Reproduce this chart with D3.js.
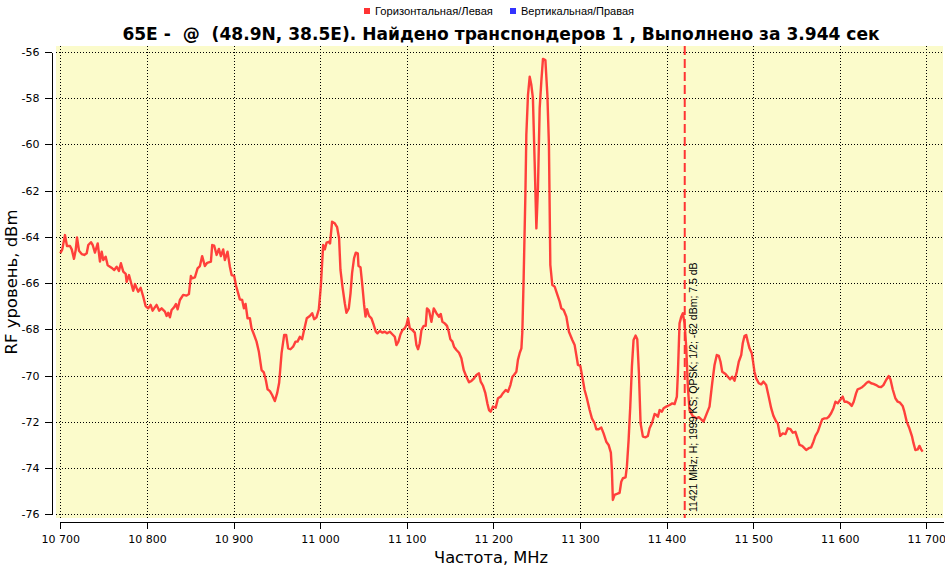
<!DOCTYPE html>
<html>
<head>
<meta charset="utf-8">
<script src="https://cdn.jsdelivr.net/npm/d3@7"></script>
<style>
  body { margin: 0; background: #fff; }
  text { font-family: "DejaVu Sans", Tahoma, sans-serif; fill: #000; }
</style>
</head>
<body>
<svg id="chart" width="945" height="567"></svg>
<script>
(function() {
  'use strict';

  // scan points, MHz
  var freqMHz = [
    10700,10702.3,10705.4,10707.7,10711.2,10713.2,10715.8,10717.8,10719.3,10721.6,
    10724.7,10727.7,10730.5,10732.3,10735.4,10737.4,10740,10743.2,10745.8,10747.8,
    10749.6,10752.4,10754.7,10757.3,10760,10762.3,10765.1,10767.7,10770,10772.7,
    10775.5,10776.6,10779.3,10782.4,10784.2,10786.2,10788.2,10790,10792.8,10795.8,
    10798.5,10801.5,10804.3,10806.6,10809.3,10811.2,10814.2,10817,10820.8,10822.8,
    10824.6,10826.6,10828.5,10831.5,10833.5,10835.5,10838.1,10841.9,10845.8,10848.5,
    10850.8,10852.3,10855.4,10858.5,10861.2,10863.8,10866.9,10869.6,10873.9,10875.4,
    10877.7,10880.5,10883.1,10885.4,10888.1,10890,10893.1,10895.8,10897.8,10900.8,
    10902.7,10905.4,10907.3,10910,10912,10913.9,10916.2,10918.9,10920.8,10923.5,
    10926.6,10929.3,10932.4,10935,10937.3,10939.3,10942,10944.6,10947.7,10950.4,
    10952.7,10955.5,10958.5,10960.8,10963.1,10965.8,10968.8,10971.6,10973.9,10976.6,
    10979.2,10981.5,10984.6,10988.1,10990.8,10993.1,10995.8,10998.5,11000.8,11003.5,
    11005.4,11007.4,11010,11011.5,11013.8,11016.9,11019.6,11021.9,11023.5,11025.8,
    11028.5,11030.4,11033.1,11035.1,11036.9,11039.2,11041.2,11043.5,11044.3,11046.6,
    11048.9,11050.8,11052.4,11054.2,11056.5,11059.3,11061.9,11064.3,11066.2,11068.9,
    11072,11074.6,11077.3,11080.4,11083.1,11086.2,11088.1,11090.4,11092.8,11095.1,
    11097.7,11099.7,11101.5,11103.5,11106.6,11109.3,11111.2,11113.1,11115,11117,
    11119.6,11121.9,11123.4,11125.8,11128.5,11131.2,11134.3,11137.3,11139.3,11141.2,
    11143.9,11146.5,11148.5,11150.4,11152.8,11154.6,11157.4,11160.4,11163.1,11165.8,
    11168.9,11171.9,11174.7,11177.7,11180.4,11183.4,11185.4,11188.1,11190.8,11193.1,
    11195,11196.9,11199.6,11202.7,11205.4,11208.5,11211.1,11214.3,11216.9,11219.7,
    11222,11223.8,11226.6,11228.4,11230.4,11232.4,11233.5,11235,11237,11238.1,
    11240,11242,11243.9,11245.7,11247.7,11249.7,11251.5,11253.5,11255.4,11257.3,
    11260.1,11262.4,11264.2,11265.8,11268.1,11270.8,11273.4,11276.6,11278.5,11281.2,
    11284.3,11287.3,11291.2,11293.9,11295.8,11297.7,11300.4,11302.7,11305.4,11308,
    11311.2,11313.8,11316.9,11318.9,11321.6,11324.7,11327.3,11330.4,11333.1,11335.7,
    11336.9,11338,11340,11342.7,11345.8,11347.7,11349.6,11352.7,11354.2,11356.2,
    11358.1,11360,11361.9,11364.2,11366.2,11368.1,11370,11372.7,11375.8,11378.4,
    11380.4,11383.1,11386.2,11388.1,11390,11392,11394.6,11396.6,11399.7,11403.5,
    11406.6,11409.3,11411.9,11413.1,11415,11417,11418.8,11420.8,11422.7,11424.6,
    11426.5,11430.3,11434.3,11437.3,11440,11442.7,11445.8,11449.6,11452.7,11455.4,
    11458,11460.4,11462.3,11464.3,11468.1,11470.7,11473.5,11475.8,11478.5,11481.1,
    11483.4,11486.2,11488,11490,11492,11493.8,11495.8,11498.4,11499.6,11501.5,
    11503.5,11506.5,11509.3,11511.9,11515,11518,11520.8,11523.5,11526.6,11528.4,
    11531.2,11534.2,11537.3,11540,11543.1,11545.7,11548.8,11551.5,11553.5,11556.6,
    11559.2,11561.2,11564.2,11567,11569.6,11571.9,11574.6,11577.3,11579.7,11582.3,
    11585,11587.3,11590,11592.7,11595,11597.7,11600.4,11603.4,11605.4,11608.1,
    11611.2,11613.8,11616.1,11618.9,11620.7,11623.5,11625.8,11628.5,11631.1,11633.4,
    11636.2,11638.9,11642,11645,11647.7,11650.4,11653.5,11656.5,11658.5,11661.1,
    11664.2,11666.9,11669.6,11672.6,11674.6,11677.3,11680.4,11683.5,11685,11687.3,
    11690,11692,11693.9,11695.7
  ];

  // horizontal / left polarisation level, dBm
  var levelDbm = [
    -64.71,-64.54,-63.92,-64.39,-64.39,-64.54,-64.95,-64.57,-64.02,-64.60,
    -64.74,-64.78,-64.71,-64.35,-64.23,-64.35,-64.68,-64.28,-65.07,-64.64,
    -65.00,-64.86,-65.23,-65.29,-65.36,-65.43,-65.29,-65.47,-65.14,-65.50,
    -65.60,-65.94,-65.65,-66.08,-66.33,-66.04,-66.22,-66.37,-66.20,-66.59,
    -66.99,-67.09,-66.94,-67.19,-67.04,-66.94,-67.19,-67.09,-67.23,-67.42,
    -67.28,-67.48,-67.16,-67.04,-66.90,-67.13,-66.73,-66.51,-66.54,-66.47,
    -65.69,-65.79,-65.75,-65.36,-65.26,-64.83,-65.26,-65.12,-65.07,-64.35,
    -64.38,-64.78,-64.52,-64.83,-64.54,-65.00,-64.64,-65.29,-65.65,-65.69,
    -66.08,-66.44,-66.70,-66.73,-67.09,-66.90,-67.52,-67.52,-67.95,-68.21,
    -68.53,-68.97,-69.76,-69.86,-70.19,-70.59,-70.67,-70.84,-71.10,-70.76,
    -70.31,-69.03,-68.24,-68.24,-68.82,-68.86,-68.75,-68.53,-68.53,-68.32,
    -68.43,-68.03,-67.52,-67.42,-67.30,-67.56,-67.48,-67.13,-66.15,-64.35,
    -64.54,-64.25,-64.21,-64.28,-63.34,-63.41,-63.58,-64.06,-65.43,-66.15,
    -66.87,-67.28,-67.09,-66.44,-65.57,-64.92,-64.68,-64.71,-65.26,-65.31,
    -66.15,-66.94,-67.45,-67.13,-67.42,-67.52,-67.81,-68.10,-68.17,-68.07,
    -68.14,-68.10,-68.17,-68.10,-68.20,-68.32,-68.68,-68.53,-68.21,-68.03,
    -67.95,-67.81,-67.52,-67.95,-68.03,-68.14,-68.68,-68.86,-68.60,-68.03,
    -67.85,-67.85,-67.09,-67.19,-67.67,-67.09,-67.30,-67.45,-67.33,-67.67,
    -67.74,-67.85,-68.10,-68.43,-68.53,-68.75,-68.89,-69.01,-69.25,-69.76,
    -70.05,-70.29,-70.23,-70.12,-69.97,-69.90,-70.26,-70.44,-70.76,-71.20,
    -71.49,-71.56,-71.34,-71.39,-70.98,-70.91,-70.76,-70.62,-70.70,-70.41,
    -70.05,-69.97,-69.83,-69.32,-69.03,-68.82,-68.10,-65.79,-62.19,-59.59,
    -57.86,-57.07,-57.43,-58.00,-60.75,-63.63,-61.90,-58.44,-57.28,-56.30,
    -56.35,-57.86,-60.02,-65.21,-66.08,-66.15,-66.44,-66.80,-67.09,-67.16,
    -67.45,-68.10,-68.46,-68.68,-69.11,-69.54,-69.58,-70.05,-70.62,-70.98,
    -71.49,-71.85,-72.06,-72.32,-72.32,-72.25,-72.50,-72.86,-73.00,-73.33,
    -74.08,-75.38,-75.16,-75.12,-75.07,-74.59,-74.44,-74.40,-73.94,-72.78,
    -71.34,-69.61,-68.46,-68.27,-68.43,-69.90,-72.06,-72.64,-72.67,-72.61,
    -72.28,-72.06,-71.66,-71.70,-71.78,-71.49,-71.56,-71.41,-71.34,-71.27,
    -71.20,-71.23,-70.91,-69.90,-67.74,-67.45,-67.30,-67.74,-68.75,-70.48,
    -71.49,-71.75,-71.85,-71.80,-71.89,-71.99,-71.70,-71.34,-70.33,-69.54,
    -69.11,-69.15,-69.40,-69.83,-69.93,-70.05,-70.16,-70.05,-70.22,-69.83,
    -69.40,-69.11,-68.60,-68.29,-68.24,-68.53,-68.82,-69.03,-69.32,-69.83,
    -70.12,-70.33,-70.38,-70.26,-70.41,-70.91,-71.41,-71.75,-71.99,-72.06,
    -72.61,-72.50,-72.53,-72.28,-72.32,-72.47,-72.43,-72.75,-73.00,-73.04,
    -73.14,-73.22,-73.14,-73.10,-72.86,-72.61,-72.43,-72.14,-71.89,-71.85,
    -71.85,-71.78,-71.63,-71.41,-71.13,-71.20,-71.05,-70.91,-71.13,-71.13,
    -71.20,-71.31,-71.13,-70.76,-70.59,-70.55,-70.50,-70.41,-70.31,-70.26,
    -70.33,-70.36,-70.41,-70.48,-70.50,-70.41,-70.19,-70.02,-70.16,-70.59,
    -70.98,-71.13,-71.17,-71.31,-71.56,-71.99,-72.28,-72.64,-72.90,-73.22,
    -73.19,-73.04,-73.19,-73.29
  ];

  var xTicks = d3.range(10700, 11701, 100);
  var xMinorTicks = d3.range(10700, 11701, 10);
  var yTicks = d3.range(-76, -55, 2);
  var yMinorTicks = d3.range(-76, -55.9, 0.2);

  var legendNames = ['Горизонтальная/Левая', 'Вертикальная/Правая'];
  var legendColors = ['#ff3333', '#3333ff'];

  var markerFreq = 11421;
  var markerLabel = '11421 MHz; H; 1999 KS; QPSK; 1/2; -62 dBm; 7.5 dB';

  var titleText = '65E -  @  (48.9N, 38.5E). Найдено транспондеров 1 , Выполнено за 3.944 сек';
  var xTitle = 'Частота, MHz';
  var yTitle = 'RF уровень, dBm';

  var svg = d3.select('#chart');

  var plot = { left: 56, top: 46, right: 943, bottom: 518 };

  var x = d3.scaleLinear().domain([10700, 11719.2]).range([60.3, 943]);
  var y = d3.scaleLinear().domain([-76, -56]).range([514.3, 52]);

  function fitWidth(sel, w) {
    var size = parseFloat(sel.style('font-size'));
    var len = sel.node().getComputedTextLength();
    sel.style('font-size', (size * w / len) + 'px');
  }

  // plot background
  svg.append('rect')
    .attr('x', plot.left)
    .attr('y', plot.top)
    .attr('width', plot.right - plot.left)
    .attr('height', plot.bottom - plot.top)
    .attr('fill', '#fbfbcb');

  // grid
  var grid = svg.append('g').attr('stroke', '#000').attr('stroke-width', 1)
    .attr('stroke-dasharray', '1,2').attr('shape-rendering', 'crispEdges');
  grid.selectAll('.gx').data(xTicks).enter().append('line')
    .attr('x1', function(d) { return Math.round(x(d)) + 0.5; })
    .attr('x2', function(d) { return Math.round(x(d)) + 0.5; })
    .attr('y1', plot.top).attr('y2', plot.bottom);
  grid.selectAll('.gy').data(yTicks).enter().append('line')
    .attr('y1', function(d) { return Math.round(y(d)) + 0.5; })
    .attr('y2', function(d) { return Math.round(y(d)) + 0.5; })
    .attr('x1', plot.left).attr('x2', plot.right);

  // axes
  var fmtX = function(d) { return d3.format(',')(d).replace(',', ' '); };

  var gx = svg.append('g').attr('transform', 'translate(0,521.5)');
  gx.call(d3.axisBottom(x).tickValues(xMinorTicks).tickSize(4).tickSizeOuter(0).tickFormat(''));
  gx.call(d3.axisBottom(x).tickValues(xTicks).tickSize(7).tickSizeOuter(0).tickFormat(fmtX));
  gx.selectAll('text').attr('dy', null).attr('y', 21).style('font-size', '11px');

  var gy = svg.append('g').attr('transform', 'translate(51.5,0)');
  gy.call(d3.axisLeft(y).tickValues(yMinorTicks).tickSize(4).tickSizeOuter(0).tickFormat(''));
  gy.call(d3.axisLeft(y).tickValues(yTicks).tickSize(7).tickSizeOuter(0)
    .tickFormat(function(d) { return String(d); }));
  gy.selectAll('text').attr('x', -12).style('font-size', '11px');

  svg.selectAll('.domain, .tick line').attr('stroke', '#000').attr('shape-rendering', 'crispEdges');

  // clip
  svg.append('clipPath').attr('id', 'clip').append('rect')
    .attr('x', plot.left).attr('y', plot.top)
    .attr('width', plot.right - plot.left).attr('height', plot.bottom - plot.top);

  // spectrum line
  var line = d3.line()
    .x(function(d) { return x(d[0]); })
    .y(function(d) { return y(d[1]); });

  svg.append('path')
    .datum(d3.zip(freqMHz, levelDbm))
    .attr('clip-path', 'url(#clip)')
    .attr('fill', 'none')
    .attr('stroke', '#ff2b2b')
    .attr('stroke-opacity', 0.9)
    .attr('stroke-width', 2.4)
    .attr('stroke-linejoin', 'round')
    .attr('d', line);

  // transponder marker
  var mx = x(markerFreq);
  svg.append('line')
    .attr('x1', mx).attr('x2', mx)
    .attr('y1', plot.top).attr('y2', plot.bottom)
    .attr('stroke', '#ff3333').attr('stroke-width', 2)
    .attr('stroke-dasharray', '9,4');

  var ml = svg.append('text')
    .attr('transform', 'translate(' + (mx + 12) + ',512) rotate(-90)')
    .style('font-family', '"Liberation Sans", Arial, sans-serif')
    .style('font-size', '11px')
    .text(markerLabel);
  fitWidth(ml, 250);

  // title
  var title = svg.append('text')
    .attr('x', 501).attr('y', 40)
    .attr('text-anchor', 'middle')
    .style('white-space', 'pre')
    .style('font-weight', 'bold')
    .style('font-size', '18px')
    .text(titleText);
  fitWidth(title, 758);

  // axis titles
  var xt = svg.append('text')
    .attr('x', 491).attr('y', 563)
    .attr('text-anchor', 'middle')
    .style('font-size', '15px')
    .text(xTitle);
  fitWidth(xt, 114);

  var yt = svg.append('text')
    .attr('transform', 'translate(17,282) rotate(-90)')
    .attr('text-anchor', 'middle')
    .style('font-size', '15px')
    .text(yTitle);
  fitWidth(yt, 145);

  // legend
  var lg = svg.append('g');
  var legendX = [364, 510];
  legendNames.forEach(function(name, i) {
    lg.append('rect')
      .attr('x', legendX[i]).attr('y', 8)
      .attr('width', 6).attr('height', 6)
      .attr('fill', legendColors[i]);
    var t = lg.append('text')
      .attr('x', legendX[i] + 11).attr('y', 15)
      .style('font-family', '"Liberation Sans", Arial, sans-serif')
      .style('font-size', '11px')
      .text(name);
    fitWidth(t, i === 0 ? 118 : 113);
  });
})();
</script>
</body>
</html>
